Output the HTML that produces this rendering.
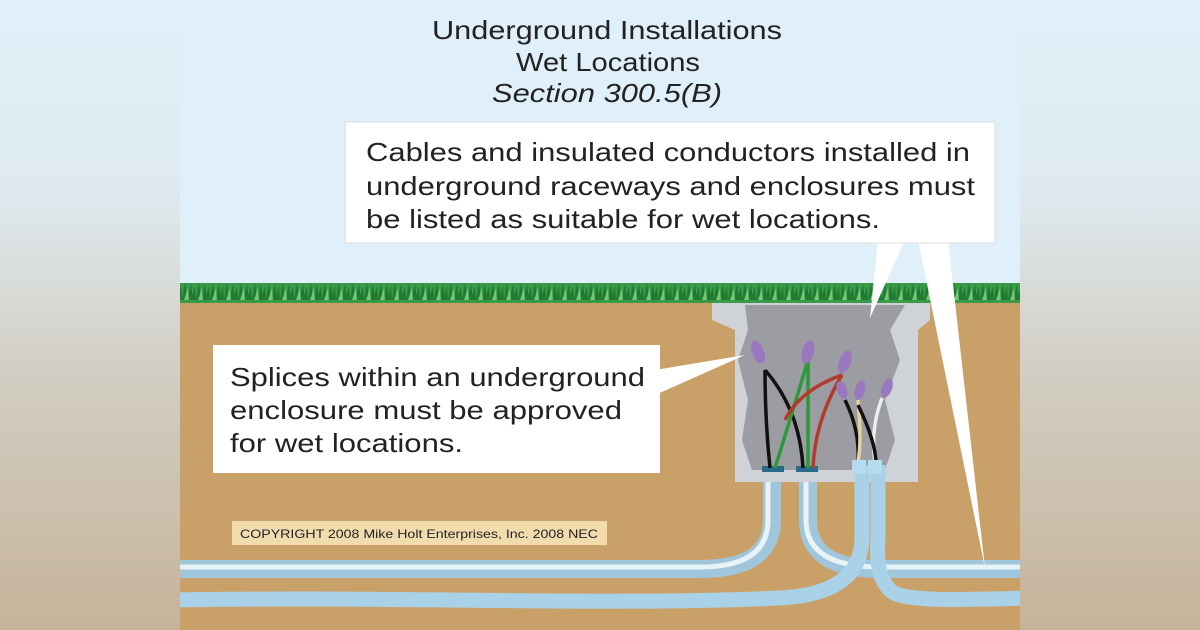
<!DOCTYPE html>
<html><head><meta charset="utf-8"><style>
html,body{margin:0;padding:0;width:1200px;height:630px;overflow:hidden;background:linear-gradient(#e0f0f9 0%,#dfeaf0 30%,#d2cdc2 60%,#c6b39a 100%);}
svg{position:absolute;left:0;top:0}
text{font-family:"Liberation Sans",Arial,sans-serif;fill:#222}
</style></head><body>
<svg width="1200" height="630" viewBox="0 0 1200 630">
<defs>
<pattern id="g" width="14" height="20" patternUnits="userSpaceOnUse">
<rect width="14" height="20" fill="#3a9a4a"/>
<path d="M0 20 L3 2 L5 20 M5 20 L9 4 L11 20 M9 20 L13 6 L14 20" fill="#1f7a33"/>
<path d="M2 20 L6 8 L7 20" fill="#7cc46e"/>
</pattern>
<clipPath id="c"><rect x="180" y="0" width="840" height="630"/></clipPath>
</defs>
<rect x="180" y="0" width="840" height="630" fill="#dff0fa"/>
<rect x="180" y="300" width="840" height="330" fill="#c9a168"/>
<rect x="180" y="283" width="840" height="20" fill="url(#g)"/>
<text x="432" y="39" font-size="26" textLength="350" lengthAdjust="spacingAndGlyphs">Underground Installations</text>
<text x="516" y="71" font-size="26" textLength="184" lengthAdjust="spacingAndGlyphs">Wet Locations</text>
<text x="492" y="102" font-size="26" font-style="italic" textLength="230" lengthAdjust="spacingAndGlyphs">Section 300.5(B)</text>
<!-- enclosure -->
<path d="M712 303 H930 V320 L918 330 V482 H735 V330 L712 320Z" fill="#cfd2d6"/>
<path d="M745 305 H905 L890 330 L900 360 L885 400 L895 440 L885 470 H752 L742 440 L748 400 L738 360 L748 330Z" fill="#9c9ca3"/>
<!-- pipes -->
<g fill="none" stroke-linecap="butt" clip-path="url(#c)">
<path d="M170 569 H700 Q772 569 772 520 V482" stroke="#9fc6db" stroke-width="18"/>
<path d="M170 567 H700 Q768 567 768 520 V482" stroke="#e8f3f8" stroke-width="5"/>
<path d="M1030 569 H880 Q808 569 808 520 V482" stroke="#9fc6db" stroke-width="18"/>
<path d="M1030 567 H880 Q806 567 806 520 V482" stroke="#e8f3f8" stroke-width="5"/>
<path d="M170 600 C400 596 600 606 780 598 Q860 594 862 540 V465" stroke="#a9d2e8" stroke-width="15"/>
<path d="M1030 598 C960 600 900 602 890 590 Q875 575 878 540 V465" stroke="#a9d2e8" stroke-width="15"/>
</g>
<rect x="762" y="466" width="22" height="6" fill="#2a6a8a"/>
<rect x="796" y="466" width="22" height="6" fill="#2a6a8a"/>
<!-- wires -->
<g fill="none" stroke-width="3.5">
<path d="M765 370 Q765 420 770 468" stroke="#111"/>
<path d="M765 370 Q800 410 803 468" stroke="#111"/>
<path d="M808 360 Q790 420 775 468" stroke="#2a9a3a"/>
<path d="M808 360 Q808 420 808 468" stroke="#2a9a3a"/>
<path d="M842 375 Q800 390 785 420" stroke="#b33a2a"/>
<path d="M842 375 Q815 420 813 468" stroke="#b33a2a"/>
<path d="M845 400 Q860 430 858 462" stroke="#111"/>
<path d="M858 400 Q862 440 858 462" stroke="#e8d0a0"/>
<path d="M882 398 Q870 430 875 462" stroke="#eee"/>
<path d="M858 405 Q875 440 876 462" stroke="#111"/>
</g>
<g fill="#9a78c0">
<ellipse cx="758" cy="352" rx="6" ry="12" transform="rotate(-20 758 352)"/>
<ellipse cx="808" cy="352" rx="6" ry="12" transform="rotate(15 808 352)"/>
<ellipse cx="845" cy="362" rx="6" ry="12" transform="rotate(20 845 362)"/>
<ellipse cx="842" cy="390" rx="5" ry="9" transform="rotate(-20 842 390)"/>
<ellipse cx="860" cy="390" rx="5" ry="10" transform="rotate(15 860 390)"/>
<ellipse cx="887" cy="388" rx="5" ry="10" transform="rotate(20 887 388)"/>
</g>
<rect x="852" y="460" width="14" height="14" fill="#b5dbee"/>
<rect x="868" y="460" width="14" height="14" fill="#b5dbee"/>
<!-- callouts -->
<path d="M878 240 L870 318 L905 240Z" fill="#fff"/>
<path d="M918 240 L985 568 L948 240Z" fill="#fff"/>
<rect x="345" y="122" width="650" height="121" fill="#fff" stroke="#ddd"/>
<text x="366" y="161" font-size="26" textLength="604" lengthAdjust="spacingAndGlyphs">Cables and insulated conductors installed in</text>
<text x="366" y="195" font-size="26" textLength="609" lengthAdjust="spacingAndGlyphs">underground raceways and enclosures must</text>
<text x="366" y="228" font-size="26" textLength="514" lengthAdjust="spacingAndGlyphs">be listed as suitable for wet locations.</text>
<path d="M655 370 L745 355 L655 395Z" fill="#fff"/>
<rect x="213" y="345" width="447" height="128" fill="#fff"/>
<text x="230" y="386" font-size="26" textLength="415" lengthAdjust="spacingAndGlyphs">Splices within an underground</text>
<text x="230" y="419" font-size="26" textLength="392" lengthAdjust="spacingAndGlyphs">enclosure must be approved</text>
<text x="230" y="452" font-size="26" textLength="233" lengthAdjust="spacingAndGlyphs">for wet locations.</text>
<rect x="232" y="521" width="375" height="24" fill="#f2dcae"/>
<text x="240" y="538" font-size="12" fill="#444" textLength="358" lengthAdjust="spacingAndGlyphs">COPYRIGHT 2008  Mike Holt Enterprises, Inc. 2008 NEC</text>
</svg>
</body></html>
